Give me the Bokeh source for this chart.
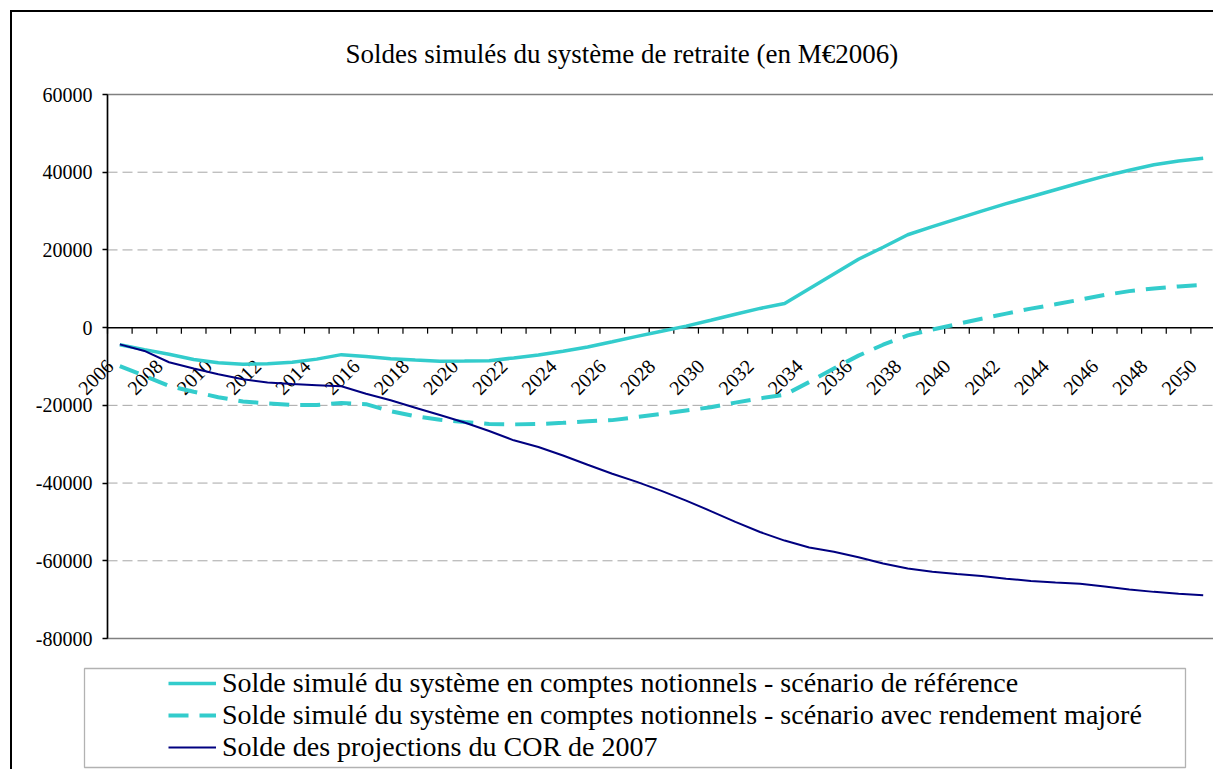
import math
from bokeh.plotting import figure
from bokeh.models import Range1d, FixedTicker, Legend, LegendItem, Title, BoxAnnotation
from bokeh.core.properties import value
from bokeh.embed import file_html
from bokeh.resources import INLINE

# ---------------- data ----------------
years = list(range(2006, 2051))
label_years = list(range(2006, 2051, 2))
label_texts = [str(y) for y in label_years]

ref_scenario = [-4400, -5650, -6850, -8200, -9050, -9450, -9300, -8900, -8100, -6950,
                -7400, -8000, -8350, -8650, -8600, -8500, -7800, -7050, -6050, -5000,
                -3650, -2250, -950, 400, 1900, 3450, 4950, 6200, 10000, 13800,
                17600, 20700, 23900, 26000, 28000, 30000, 31900, 33700, 35500, 37300,
                39000, 40500, 41900, 42900, 43600]
maj_scenario = [-9900, -12400, -15000, -16500, -17900, -19000, -19500, -19900, -19900, -19400,
                -19700, -21500, -22800, -23700, -24300, -24800, -24900, -24800, -24500, -24100,
                -23800, -23000, -22200, -21300, -20500, -19300, -18200, -17300, -14000, -10500,
                -7200, -4400, -2000, -500, 900, 2300, 3600, 4900, 6000, 7200,
                8400, 9400, 10100, 10600, 11000]
cor_2007 = [-4300, -6000, -8900, -10500, -12000, -13300, -14100, -14500, -14800, -15100,
            -17000, -18700, -20600, -22500, -24400, -26600, -29000, -30700, -32900, -35300,
            -37600, -39700, -42000, -44500, -47200, -50000, -52600, -54800, -56600, -57700,
            -59100, -60700, -62000, -62800, -63400, -63900, -64600, -65200, -65600, -65900,
            -66600, -67400, -68000, -68500, -68900]

y_ticks = [-80000, -60000, -40000, -20000, 0, 20000, 40000, 60000]
grid_ticks = [-60000, -40000, -20000, 20000, 40000]

series_labels = [
    "Solde simulé du système en comptes notionnels - scénario de référence",
    "Solde simulé du système en comptes notionnels - scénario avec rendement majoré",
    "Solde des projections du COR de 2007",
]
title_text = "Soldes simulés du système de retraite (en M€2006)"

TURQ = "#33CCCC"
NAVY = "#000080"
GRID = "#a6a6a6"
FONT = "'Liberation Serif', 'Times New Roman', serif"

# ---------------- layout (canvas pixels) ----------------
W, H = 1203, 759          # canvas; CSS border puts its top-left at page (12, 12)
TOP = 70                  # title band -> frame top
AREA_TOP = 82             # plot-area top edge (canvas y)
AREA_LEFT = 95            # plot-area left edge inside the frame
AREA_BOTTOM = 626         # plot-area bottom edge (canvas y)

x_lo, x_hi = years[0] - 0.5, years[-1] + 0.5
px_per_x = (W - AREA_LEFT) / (x_hi - x_lo)
y_lo, y_hi = y_ticks[0], y_ticks[-1]
val_per_px = (y_hi - y_lo) / (AREA_BOTTOM - AREA_TOP)

p = figure(width=W, height=H, output_backend="svg", toolbar_location=None,
           x_range=Range1d(x_lo - AREA_LEFT / px_per_x, x_hi),
           y_range=Range1d(y_lo - (H - AREA_BOTTOM) * val_per_px,
                           y_hi + (AREA_TOP - TOP) * val_per_px),
           x_axis_location=None,
           min_border_left=0, min_border_right=0, min_border_top=TOP, min_border_bottom=0)
p.styles = {"margin-left": "10px", "margin-top": "10px",
            "border-left": "2px solid black", "border-top": "2px solid black"}
p.background_fill_color = "white"
p.border_fill_color = "white"
p.outline_line_color = None
p.xgrid.visible = False
p.ygrid.visible = False

# title
p.title = Title(text=title_text, align="left", offset=333, text_font=FONT,
                text_font_size="27px", text_font_style="normal", text_color="black",
                standoff=28)

# plot-area frame (gray) and dashed grid
p.quad(left=x_lo, right=x_hi, bottom=y_lo, top=y_hi, fill_alpha=0,
       line_color="#808080", line_width=1.5)
p.segment(x0=[x_lo] * len(grid_ticks), x1=[x_hi] * len(grid_ticks), y0=grid_ticks, y1=grid_ticks,
          line_color=GRID, line_width=1, line_dash="10 5")

# y axis at the left edge of the plot area
ax = p.yaxis[0]
ax.fixed_location = x_lo
ax.bounds = (y_lo, y_hi)
ax.ticker = FixedTicker(ticks=y_ticks)
ax.major_label_overrides = {t: str(t) for t in y_ticks}
ax.major_label_text_font = FONT
ax.major_label_text_font_size = "20px"
ax.major_label_text_font_style = "normal"
ax.major_label_text_color = "black"
ax.major_label_standoff = 10
ax.major_tick_out = 5
ax.major_tick_in = 0
ax.minor_tick_line_color = None
ax.axis_line_color = "black"
ax.axis_line_width = 1.5
ax.major_tick_line_color = "black"
ax.major_tick_line_width = 1.5

# category axis on the zero line
p.segment(x0=[x_lo], x1=[x_hi], y0=[0], y1=[0], line_color="black", line_width=1.5)
bounds = [y - 0.5 for y in years] + [x_hi]
p.segment(x0=bounds, x1=bounds, y0=[0] * len(bounds), y1=[-6 * val_per_px] * len(bounds),
          line_color="black", line_width=1.2)
p.text(x=label_years, y=[0] * len(label_years), text=label_texts, angle=math.pi / 4,
       text_align="right", text_baseline="middle", x_offset=-10, y_offset=35,
       text_font=value(FONT), text_font_size="20px", text_color="black")

# series
r1 = p.line(years, ref_scenario, line_color=TURQ, line_width=3.5)
r2 = p.line(years, maj_scenario, line_color=TURQ, line_width=4, line_dash="20 11")
r3 = p.line(years, cor_2007, line_color=NAVY, line_width=2)

legend = Legend(items=[LegendItem(label=series_labels[0], renderers=[r1]),
                       LegendItem(label=series_labels[1], renderers=[r2]),
                       LegendItem(label=series_labels[2], renderers=[r3])],
                location=(156, 8), orientation="vertical",
                label_text_font=FONT, label_text_font_size="28px", label_text_color="black",
                glyph_width=48, glyph_height=32, label_height=32, label_standoff=6,
                spacing=0, padding=0, margin=0,
                border_line_alpha=0, background_fill_alpha=0)
p.add_layout(legend, "center")
p.add_layout(BoxAnnotation(left=70, right=1171, top=654, bottom=753,
                           left_units="canvas", right_units="canvas",
                           top_units="canvas", bottom_units="canvas",
                           fill_alpha=0, line_color="black", line_width=1.3))

open("out.html", "w").write(file_html(p, INLINE))
